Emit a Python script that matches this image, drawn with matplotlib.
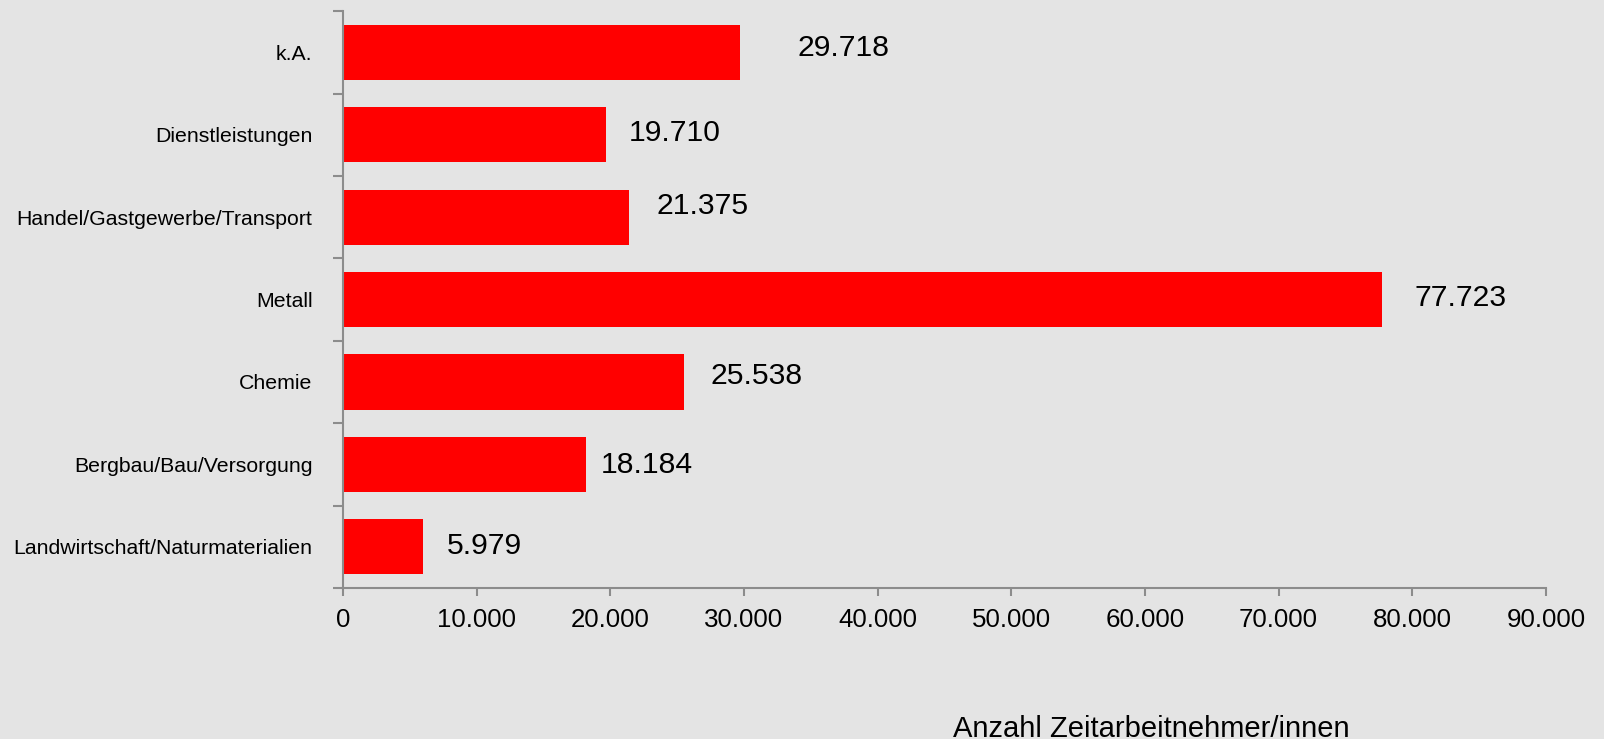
import numpy as np
import matplotlib.pyplot as plt
from matplotlib.ticker import FuncFormatter

# Daten
kategorien = ["k.A.", "Dienstleistungen", "Handel/Gastgewerbe/Transport", "Metall",
              "Chemie", "Bergbau/Bau/Versorgung", "Landwirtschaft/Naturmaterialien"]
werte = [29718, 19710, 21375, 77723, 25538, 18184, 5979]
wert_labels = ["29.718", "19.710", "21.375", "77.723", "25.538", "18.184", "5.979"]

# manuelle Verschiebung der Beschriftungen (Pixel)
label_dx = [57, 22, 28, 33, 26, 15, 24]
label_dy = [4, 2, 11, 2, 6, -1, 1]

plt.rcParams['font.family'] = ['Liberation Sans', 'DejaVu Sans']
bg = '#e4e4e4'
grau = '#8c8c8c'

fig = plt.figure(figsize=(16.04, 7.39), dpi=100, facecolor=bg)
ax = fig.add_axes([0.2138, 0.2043, 0.9638 - 0.2138, 0.985 - 0.2043])
ax.set_facecolor(bg)

y = np.arange(len(kategorien))[::-1]
ax.barh(y, werte, height=0.67, color='#ff0000')

for yi, w, lab, dx, dy in zip(y, werte, wert_labels, label_dx, label_dy):
    ax.annotate(lab, (w, yi), xytext=(dx, dy), textcoords='offset pixels',
                ha='left', va='center', fontsize=21.7)

ax.set_xlim(0, 90000)
ax.set_ylim(-0.5, len(kategorien) - 0.5)
ax.set_xticks(np.arange(0, 90001, 10000))
ax.xaxis.set_major_formatter(FuncFormatter(lambda v, p: f"{int(v):,}".replace(",", ".")))

ax.set_yticks(y)
ax.set_yticklabels(kategorien, fontsize=15.3)
ax.set_yticks(np.arange(-0.5, len(kategorien), 1), minor=True)
ax.tick_params(axis='y', which='major', length=0, pad=22)
ax.tick_params(axis='y', which='minor', length=7, width=1.5, color=grau, direction='out')
ax.tick_params(axis='x', length=5.5, width=1.5, color=grau, labelsize=18.6, pad=9)

for s in ['top', 'right']:
    ax.spines[s].set_visible(False)
for s in ['left', 'bottom']:
    ax.spines[s].set_color(grau)
    ax.spines[s].set_linewidth(1.5)

fig.text(0.718, 0.033, "Anzahl Zeitarbeitnehmer/innen", ha='center', va='top', fontsize=21)

fig.savefig("out.png", dpi=100, facecolor=bg)
